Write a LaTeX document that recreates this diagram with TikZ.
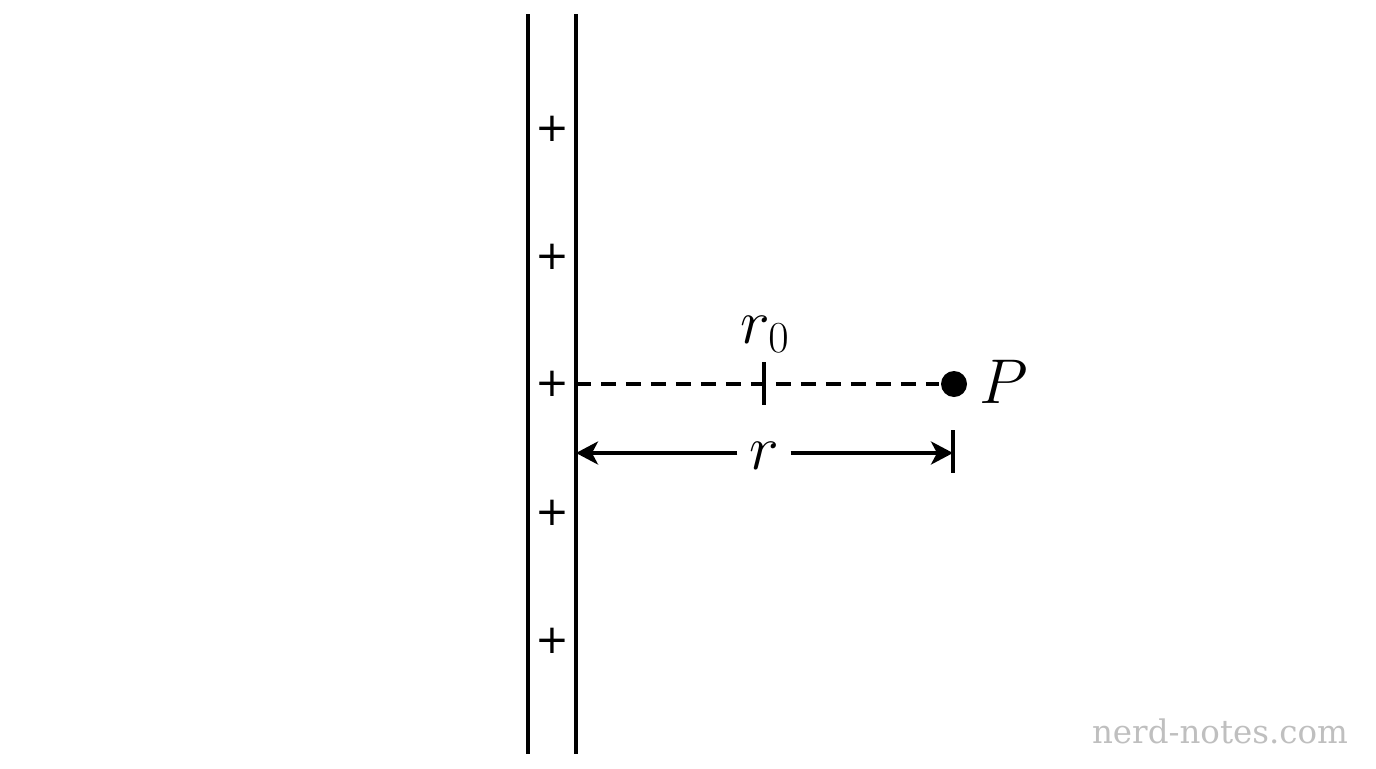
\documentclass[tikz,border=0pt]{standalone}
\usepackage{fix-cm}
\usepackage{fontspec}
\newfontfamily\wmfont{DejaVu Serif}
\newfontfamily\plusfont{DejaVu Sans}
\usetikzlibrary{arrows.meta, positioning}

\begin{document}
\begin{tikzpicture}[
    % GLOBAL CFG
    x=0.02cm, y=-0.02cm,
    line width=2pt,
    >={Stealth[length=0.44cm, width=0.46cm, inset=0.12cm]},
    % Styles
    plate/.style={% For the charged plate
        line width=2.2pt,
        },
    charge/.style={% For the + signs on the plate
        font=\plusfont\fontsize{23}{26}\selectfont,
        inner sep=0pt,
        },
    mylabel/.style={% For the math labels
        font=\fontsize{36}{42}\selectfont,
        inner sep=0pt,
        },
    dot/.style={% For the point
        circle,
        fill,
        inner sep=0pt,
        minimum size=0.52cm,
        },
    DashC/.style={% Long dashes
        dash pattern=on 0.3cm off 0.2cm,
        },
    watermark/.style={%
        font=\wmfont\fontsize{18.5}{22}\selectfont,
        text=black!25,
        },
    ]

    \useasboundingbox (0,0) rectangle (1376,768);

    % Draw the plate
    \coordinate (lt) at (528,14);
    \coordinate (lb) at (528,754);
    \coordinate (rt) at (576,14);
    \coordinate (rb) at (576,754);
    \draw [plate] (lt) -- (lb);
    \draw [plate] (rt) -- (rb);

    % Draw the charges named q#
    \node [charge] (q1) at (552,129) {+};
    \node [charge] (q2) at (552,257) {+};
    \node [charge] (q3) at (552,384) {+};
    \node [charge] (q4) at (552,513) {+};
    \node [charge] (q5) at (552,641) {+};

    % Draw the point P
    \node [dot] (dotP) at (954,384) {};
    \node [mylabel, anchor=base west] (P) at (978,403) {$P$};

    % Labels
    \node [mylabel, anchor=base] (r0lab) at (765,343) {$r_0$};
    \node [mylabel, fill=white, inner xsep=0.2cm] (rlab) at (764,456) {$r$};

    % Dashed line and r0 mark
    \coordinate (O) at (576,384);
    \coordinate (r0) at (764,384);
    \draw [DashC] (O) -- (dotP);
    \draw (r0)++(0,-22) -- ++(0,43);

    % Distance arrow
    \coordinate (A) at (576,453);
    \coordinate (B) at (953,453);
    \draw [->] (rlab.west |- A) -- (A);
    \draw [->] (rlab.east |- B) -- (B);
    \draw (B)++(0,-23) -- ++(0,43);

    % Watermark
    \node [watermark] (wm) at (1220,731) {nerd-notes.com};

\end{tikzpicture}
\end{document}
